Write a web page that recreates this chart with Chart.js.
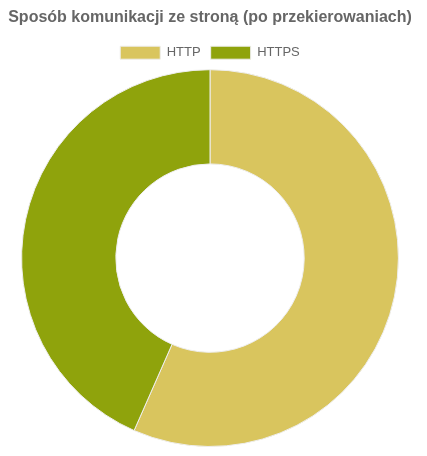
<!DOCTYPE html>
<html>
<head>
<meta charset="utf-8">
<script src="https://cdn.jsdelivr.net/npm/chart.js@4"></script>
<style>
  body { margin: 0; background: #fff; }
  .chart-container { position: relative; width: 420px; height: 447px; }
</style>
</head>
<body>
<div class="chart-container"><canvas id="chart"></canvas></div>
<script>
// data
const labels = ['HTTP', 'HTTPS'];
const values = [56.6, 43.4];
const colors = ['#d9c55e', '#8fa30c'];

Chart.defaults.font.family = '"Liberation Sans", Arial, sans-serif';
Chart.defaults.color = '#666';

const ctx = document.getElementById('chart').getContext('2d');
new Chart(ctx, {
    type: 'doughnut',
    data: {
        labels: labels,
        datasets: [{
            data: values,
            backgroundColor: colors,
            borderColor: '#eeeeee',
            borderWidth: 1,
        }]
    },
    options: {
        responsive: true,
        maintainAspectRatio: false,
        animation: false,
        cutout: '50%',
        plugins: {
            title: {
                display: true,
                text: 'Sposób komunikacji ze stroną (po przekierowaniach)',
                font: { size: 16, weight: 'bold' },
                color: '#666',
                padding: { top: 8, bottom: 9 }
            },
            legend: {
                labels: { boxWidth: 40, boxHeight: 13, font: { size: 13 }, color: '#666' }
            },
            tooltip: { enabled: false }
        }
    }
});
</script>
</body>
</html>
